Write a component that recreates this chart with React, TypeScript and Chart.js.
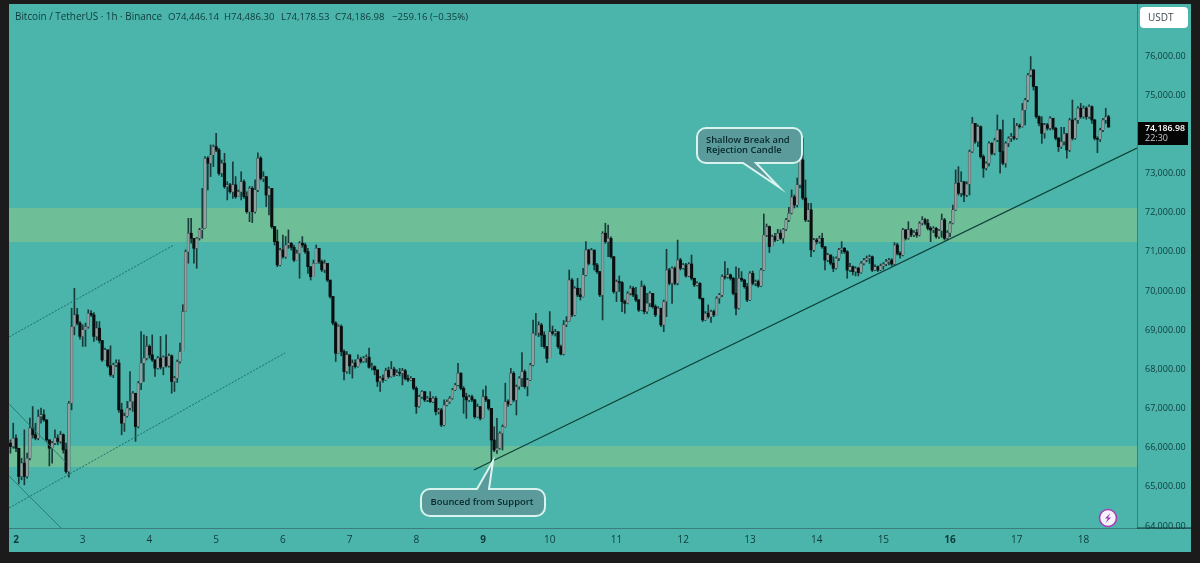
import React, { useEffect, useRef } from "react";
import { Chart, registerables } from "chart.js";

Chart.register(...registerables);

const firstOpen = 66115;

const closes = [
  66030,66240,65985,65265,65605,65265,65730,66500,66330,66245,
  66795,66840,66710,66200,65985,66115,66245,66160,66330,65945,
  65390,67135,69090,69390,69180,68840,69010,69090,69430,69390,
  68840,69050,68735,68240,68500,68090,67860,68115,68160,66965,
  66625,66810,67010,67180,67390,66540,67650,68160,68285,68585,
  68370,68240,68030,68285,68055,68310,68090,68345,67690,67775,
  68200,68455,69475,
  71005,71475,71345,71090,71345,71560,71600,73390,73260,73475,
  73685,73600,73005,73260,72665,72710,72535,72710,72410,72535,
  72790,72410,72025,72620,72025,72580,73390,72875,72920,72450,
  72620,71645,71260,70665,71045,70875,71175,71220,71115,70790,
  70960,71220,71175,71005,70620,70365,70705,71090,70750,70540,
  70705,70280,69860,69180,68410,69095,68455,67945,68370,68090,
  68160,68070,68260,68200,68285,68310,68055,68070,67985,67690,
  67775,67730,67970,67815,68005,67860,67920,
  67900,67965,67770,67730,67770,67515,67050,67300,67430,67220,
  67260,67175,67260,66920,66960,66580,67090,67175,67260,67475,
  67600,67900,67515,67300,67220,67300,67220,66790,67050,66750,
  67300,67220,67005,66195,65940,65985,66365,66535,67175,67115,
  67900,67220,67560,67770,67940,67560,67730,68110,68920,68935,
  69130,68875,68580,68280,68960,68920,68960,68580,68390,69135,
  69220,70280,69390,70070,69900,69855,70410,71045,70705,71045,
  70665,70495,69900,71475,71260,71345,70875,69985,70240,70215,
  69730,69685,69940,70070,69900,69770,69515,70110,69475,69685,
  69940,69600,69390,69560,69135,69730,70535,70195,70580,70195,
  70790,70580,70665,70385,70690,70325,70155,70195,69815,69260,
  69430,69345,69475,69390,69815,69900,70365,70350,70410,70325,
  69940,69560,70325,70280,70110,69770,70450,70195,70240,70130,
  70535,71430,71645,71135,71390,71300,71475,71345,71575,71815,
  71985,72400,72195,72710,73345,72375,
  71815,72070,71047,71303,71260,71345,71130,70790,70920,70710,
  70580,70835,71050,71090,71005,70535,70620,70495,70580,70470,
  70705,70790,70835,70875,70535,70620,70535,70640,70690,70750,
  70790,70690,71175,70960,70920,71560,71345,71560,71430,71490,
  71430,71730,71815,71730,71600,71560,71600,71390,71540,71815,
  71345,71490,71730,72070,72750,72495,72790,72450,72730,73560,
  74280,73815,74195,73430,73135,73260,73770,73515,73855,74110,
  73560,73260,73770,73900,73940,73900,74215,74195,74620,74875,
  75515,75640,75220,74450,74280,74025,74240,74155,74410,74155,
  73900,73685,73815,74010,73600,74365,73900,74365,74665,74450,
  74665,74450,74705,74365,73900,73875,74110,74365,74446.14,74186.98,
];

const highs = [
  66200,66625,66330,65985,65730,66455,65860,66755,67050,66625,
  66965,67010,66965,66710,66200,66160,66455,66330,66415,66355,
  66115,67180,69560,70070,69560,69220,69135,69180,69520,69500,
  69450,69220,69220,68735,68540,68370,68600,68160,68240,68240,
  67135,66880,67180,67945,67435,67220,67690,68965,68880,68840,
  68625,68880,68240,68330,68840,68345,68880,68395,68370,67820,
  68240,68670,69650,
  71050,71855,71855,71345,71370,71600,72620,73430,73430,73730,
  73730,74025,73645,73345,73515,72790,72750,73300,72920,72580,
  73045,72835,72535,72665,72665,72835,73530,73430,73045,72920,
  72665,72620,71645,71560,71090,71430,71390,71560,71235,71175,
  71045,71260,71390,71220,71090,70620,70790,71175,71090,70790,
  70790,70620,70215,69860,69220,69135,69135,68500,68455,68370,
  68240,68240,68370,68310,68330,68370,68540,68160,68090,67985,
  67820,67860,68030,68055,68200,68055,67985,
  68025,68025,68000,67855,67815,67770,67560,67345,67455,67430,
  67305,67430,67305,67305,67005,67005,67220,67220,67305,67515,
  67645,68155,67915,67560,67390,67345,67345,67235,67115,67050,
  67475,67575,67235,67005,66535,66750,66405,66580,67645,67220,
  68025,67940,67600,67815,68425,67985,67770,68155,69260,69430,
  69215,69175,68960,68580,69475,69105,69020,68960,68620,69245,
  69345,70535,70325,70110,70325,70070,70580,71260,71065,71090,
  71045,70705,70495,71515,71730,71685,71385,70875,70280,70385,
  70240,69770,69985,70130,70110,70095,69790,70255,70155,69940,
  69985,69730,69645,69600,69475,69770,71065,70580,70620,70620,
  71300,70835,70705,70705,70725,70920,70325,70240,70215,69815,
  69475,69645,69515,69515,69855,69940,70410,70750,70580,70435,
  70350,70620,70580,70495,70300,70195,70495,70510,70280,70280,
  70580,71965,71710,71660,71430,71475,71575,71560,71600,71855,
  72135,72580,72450,72885,73600,73905,
  72835,72240,72240,71345,71345,71405,71475,71130,70960,70920,
  70875,70875,71090,71260,71115,71030,70705,70640,70620,70605,
  70750,70835,70895,70920,70895,70665,70640,70690,70725,70810,
  70835,70825,71235,71220,71005,71600,71575,71770,71600,71540,
  71575,71770,71900,71855,71830,71645,71645,71625,71575,71965,
  71855,71540,71770,72195,73090,73175,73045,72790,72790,73600,
  74435,74240,74240,74215,73475,73300,73815,73790,73900,74495,
  74130,74365,73815,73940,74025,74410,74280,74265,74790,74920,
  75560,75985,75660,75220,74470,74450,74280,74280,74450,74410,
  74180,73925,74180,74180,74025,74410,74875,74410,74705,74790,
  74725,74705,74750,74725,74385,73940,74155,74410,74665,74486.30,
];

const lows = [
  65860,65985,65900,65075,65180,65050,65220,65690,66245,66200,
  66200,66625,66670,66160,65535,65605,66075,66075,66115,65860,
  65350,65245,66965,68880,69135,68770,68585,68585,69050,69350,
  68710,68750,68670,68200,68240,68055,67820,67790,68070,66900,
  66330,66415,66780,66965,66925,66160,66500,67480,67690,68240,
  68285,68200,67820,68005,68005,67860,68055,68055,67390,67435,
  67665,68160,69090,
  69475,70710,71220,70710,70580,71300,71345,71600,72580,72920,
  73175,73560,72960,72920,72620,72325,72495,72365,72365,72410,
  72325,72365,71985,71770,71745,71985,72535,72835,72790,72155,
  71940,71600,71175,70620,70640,70835,70835,71090,71045,70750,
  70790,70325,71115,70960,70450,70280,70410,70705,70705,70495,
  70470,70240,69815,69135,68200,68410,68345,67730,67900,67885,
  67775,68030,68055,68160,68175,68175,68030,67985,67860,67560,
  67435,67665,67715,67775,67800,67820,67835,
  67830,67600,67730,67685,67710,67475,66875,67030,67260,67175,
  67175,67150,67150,66835,66860,66535,66555,67065,67135,67235,
  67455,67575,67475,66875,66750,67175,67175,66750,66775,66705,
  66750,67175,66960,65645,65900,65855,65960,65940,66520,67050,
  67090,67175,66835,67490,67560,67515,67320,67710,68085,68875,
  68835,68580,68535,68170,68305,68875,68850,68535,68365,68365,
  69090,69220,69345,69365,69855,69770,69840,70385,70665,70750,
  70535,70450,69855,69260,71215,70875,70835,69940,69730,69985,
  69475,69430,69670,69900,69855,69730,69475,69500,69415,69430,
  69600,69560,69345,69415,69090,68960,69345,70155,69685,70155,
  70155,70535,70555,70350,70365,70280,70110,70130,69790,69220,
  69245,69305,69200,69345,69390,69685,69855,70300,70325,70280,
  69900,69390,69535,70240,70070,69730,69755,70155,70130,70095,
  70110,70520,71390,70980,71200,71260,71285,71305,71220,71540,
  71770,71965,72120,72145,72630,72330,
  71770,71770,70875,71005,71200,71220,71090,70535,70750,70665,
  70495,70555,70775,70960,70960,70325,70495,70410,70385,70385,
  70450,70665,70750,70705,70495,70520,70495,70520,70555,70640,
  70665,70640,70665,70920,70835,70895,71300,71320,71390,71390,
  71370,71405,71685,71685,71560,71260,71490,71345,71345,71370,
  71300,71300,71390,71710,72050,72450,72410,72280,72410,72450,
  73530,73770,73685,73390,72900,73090,73190,73475,73475,73815,
  73005,73220,73160,73685,73815,73855,73870,74155,74180,74240,
  74835,75470,75130,74410,74215,73770,73900,74110,74110,74110,
  73855,73560,73640,73730,73390,73560,73855,73870,74280,74410,
  74410,74385,74410,74280,73855,73530,73815,74070,74280,74178.53,
];

const firstHour = -2;
const dayLabels = ["2","3","4","5","6","7","8","9","10","11","12","13","14","15","16","17","18"];
const boldDays = ["2", "9", "16"];
const priceTicks = [64000,65000,66000,67000,68000,69000,70000,71000,72000,73000,74000,75000,76000];
const hiddenPriceTick = 74000;

const resistanceBand = [71250, 72120];
const supportBand = [65507, 66040];

const mainTrend = [{ x: 164.7, y: 65430 }, { x: 403.2, y: 73650 }];
const channelUpper = [{ x: -2.5, y: 68826 }, { x: 56.8, y: 71175 }];
const channelLower = [{ x: -2.5, y: 64460 }, { x: 96.8, y: 68420 }];
const diagonalA = [{ x: -2.5, y: 67116 }, { x: 17.8, y: 65635 }];
const diagonalB = [{ x: -2.5, y: 65277 }, { x: 16.2, y: 63950 }];

const headerText = "Bitcoin / TetherUS · 1h · Binance";
const headerOpen = "O74,446.14";
const headerHigh = "H74,486.30";
const headerLow = "L74,178.53";
const headerClose = "C74,186.98";
const headerChange = "−259.16 (−0.35%)";
const lastPriceText = "74,186.98";
const countdownText = "22:30";
const currencyText = "USDT";
const supportNote = "Bounced from Support";
const breakNote = ["Shallow Break and", "Rejection Candle"];

const BG = "#4bb5ab";
const BAND = "#6ebf98";
const FRAME = "#1b1b1b";
const INK = "#0e3a3c";
const AXIS = "#3c7d7c";
const FONT = "'Open Sans', sans-serif";

function roundPath(ctx: CanvasRenderingContext2D, x: number, y: number, w: number, h: number, r: number) {
  ctx.beginPath();
  ctx.roundRect(x, y, w, h, r);
}

function callout(
  ctx: CanvasRenderingContext2D,
  box: [number, number, number, number],
  pointer: [number, number, number, number, number, number],
  up: boolean
) {
  const [x, y, w, h] = box;
  const [ax, ay, bx, by, tx, ty] = pointer;
  const r = 9;
  ctx.beginPath();
  ctx.moveTo(x + r, y);
  if (up) {
    ctx.lineTo(ax, ay);
    ctx.lineTo(tx, ty);
    ctx.lineTo(bx, by);
  }
  ctx.lineTo(x + w - r, y);
  ctx.arcTo(x + w, y, x + w, y + r, r);
  ctx.lineTo(x + w, y + h - r);
  ctx.arcTo(x + w, y + h, x + w - r, y + h, r);
  if (!up) {
    ctx.lineTo(bx, by);
    ctx.lineTo(tx, ty);
    ctx.lineTo(ax, ay);
  }
  ctx.lineTo(x + r, y + h);
  ctx.arcTo(x, y + h, x, y + h - r, r);
  ctx.lineTo(x, y + r);
  ctx.arcTo(x, y, x + r, y, r);
  ctx.closePath();
  ctx.fillStyle = "#5b9b9c";
  ctx.fill();
  ctx.lineWidth = 2;
  ctx.strokeStyle = "#d9f3ef";
  ctx.stroke();
}

const decorPlugin = {
  id: "decor",
  beforeDraw(chart: any) {
    const ctx = chart.ctx;
    ctx.save();
    ctx.fillStyle = FRAME;
    ctx.fillRect(0, 0, chart.width, chart.height);
    ctx.fillStyle = BG;
    ctx.fillRect(9, 4, 1182, 548);
    ctx.restore();
  },
  beforeDatasetsDraw(chart: any) {
    const { ctx, chartArea, scales } = chart;
    ctx.save();
    ctx.fillStyle = BAND;
    for (const [lo, hi] of [resistanceBand, supportBand]) {
      const top = scales.y.getPixelForValue(hi);
      const bottom = scales.y.getPixelForValue(lo);
      ctx.fillRect(chartArea.left, top, chartArea.right - chartArea.left, bottom - top);
    }
    ctx.restore();
  },
  afterDraw(chart: any) {
    const ctx: CanvasRenderingContext2D = chart.ctx;
    ctx.save();
    // scale corner below the axis
    ctx.fillStyle = BG;
    ctx.fillRect(1138, 529, 53, 23);
    ctx.fillStyle = "#14383a";
    ctx.fillRect(1137, 527.5, 54, 1.2);

    // header
    ctx.textBaseline = "middle";
    ctx.textAlign = "left";
    ctx.fillStyle = INK;
    ctx.font = `9.9px ${FONT}`;
    ctx.fillText(headerText, 15, 17);
    ctx.font = `9.6px ${FONT}`;
    ctx.fillText(headerOpen, 168, 17);
    ctx.fillText(headerHigh, 224, 17);
    ctx.fillText(headerLow, 281, 17);
    ctx.fillText(headerClose, 335, 17);
    ctx.fillText(headerChange, 392, 17);

    // currency button
    ctx.fillStyle = "#ffffff";
    roundPath(ctx, 1140, 7, 48, 21, 4);
    ctx.fill();
    ctx.fillStyle = "#3f4a50";
    ctx.font = `10px ${FONT}`;
    ctx.fillText(currencyText, 1148, 18);

    // last price tag
    ctx.fillStyle = "#050505";
    ctx.fillRect(1138, 122, 50, 23);
    ctx.fillStyle = "#ffffff";
    ctx.font = `600 8.8px ${FONT}`;
    ctx.fillText(lastPriceText, 1145, 128);
    ctx.fillStyle = "#c9c9c9";
    ctx.font = `9px ${FONT}`;
    ctx.fillText(countdownText, 1145, 138.5);

    // callouts
    callout(ctx, [421, 489, 124, 27], [477, 489, 489, 489, 493, 461], true);
    ctx.fillStyle = "#08282b";
    ctx.font = `600 9.4px ${FONT}`;
    ctx.textAlign = "center";
    ctx.fillText(supportNote, 482, 502.5);

    callout(ctx, [697, 128, 105, 35], [743, 163, 756, 163, 779, 187], false);
    ctx.fillStyle = "#08282b";
    ctx.textAlign = "left";
    ctx.fillText(breakNote[0], 706, 140.5);
    ctx.fillText(breakNote[1], 706, 150.5);

    // bolt badge
    ctx.beginPath();
    ctx.arc(1108, 518, 8.5, 0, Math.PI * 2);
    ctx.fillStyle = "#f4f4f8";
    ctx.fill();
    ctx.lineWidth = 1.6;
    ctx.strokeStyle = "#a83cb4";
    ctx.stroke();
    ctx.beginPath();
    ctx.moveTo(1110.5, 513);
    ctx.lineTo(1105, 518.6);
    ctx.lineTo(1108, 518.6);
    ctx.lineTo(1105.5, 523);
    ctx.lineTo(1111, 517.4);
    ctx.lineTo(1108, 517.4);
    ctx.closePath();
    ctx.fillStyle = "#9a2cc0";
    ctx.fill();
    ctx.restore();
  },
};

export default function App() {
  const ref = useRef<HTMLCanvasElement | null>(null);

  useEffect(() => {
    if (!ref.current) return;
    const hours = closes.map((_, i) => firstHour + i);
    const opens = closes.map((_, i) => (i === 0 ? firstOpen : closes[i - 1]));
    const wicks = closes.map((_, i) => ({ x: hours[i], y: [lows[i], highs[i]] }));
    const ups = closes.flatMap((c, i) => (c >= opens[i] ? [{ x: hours[i], y: [opens[i], c] }] : []));
    const downs = closes.flatMap((c, i) => (c < opens[i] ? [{ x: hours[i], y: [c, opens[i]] }] : []));

    const lineSet = (data: any, color: string, width: number, dash: number[]) => ({
      type: "line",
      data,
      borderColor: color,
      borderWidth: width,
      borderDash: dash,
      pointRadius: 0,
      fill: false,
      tension: 0,
      order: 0,
    });

    const chart = new Chart(ref.current, {
      type: "bar",
      data: {
        datasets: [
          { data: wicks, backgroundColor: "#1a3a3a", barThickness: 1, grouped: false, order: 3 },
          { data: ups, backgroundColor: "#939f9f", borderColor: "#2c4444", borderWidth: 0.5, barThickness: 2.7, grouped: false, order: 2 },
          { data: downs, backgroundColor: "#0a0e0e", barThickness: 2.5, grouped: false, order: 2 },
          lineSet(mainTrend, "#0c4238", 1.2, []),
          lineSet(channelUpper, "#1c6f6a", 1, [2, 1.5]),
          lineSet(channelLower, "#1c6f6a", 1, [2, 1.5]),
          lineSet(diagonalA, "#2a7d78", 1, []),
          lineSet(diagonalB, "#2a7d78", 1, []),
        ] as any,
      },
      plugins: [decorPlugin],
      options: {
        animation: false,
        responsive: false,
        devicePixelRatio: 1,
        layout: { padding: { left: 9, right: 9, top: 4, bottom: 11 } },
        plugins: { legend: { display: false }, tooltip: { enabled: false } },
        scales: {
          x: {
            type: "linear",
            offset: false,
            min: -2.52,
            max: 403.24,
            afterBuildTicks: (scale: any) => {
              scale.ticks = dayLabels.map((_, i) => ({ value: i * 24 }));
            },
            afterFit: (scale: any) => {
              scale.height = 24;
              scale.paddingLeft = 0;
              scale.paddingRight = 0;
            },
            grid: { display: false, drawTicks: false, offset: false },
            border: { display: true, color: AXIS, width: 1 },
            ticks: {
              autoSkip: false,
              maxRotation: 0,
              padding: 6,
              color: INK,
              font: (c: any) => ({
                family: FONT,
                size: 10,
                weight: c.tick && boldDays.includes(dayLabels[c.tick.value / 24]) ? "700" : "400",
              }),
              callback: (v: any) => dayLabels[Number(v) / 24] ?? "",
            },
          },
          y: {
            position: "right",
            min: 63949,
            max: 77327,
            afterBuildTicks: (scale: any) => {
              scale.ticks = priceTicks.filter((p) => p !== hiddenPriceTick).map((value) => ({ value }));
            },
            afterFit: (scale: any) => {
              scale.width = 54;
              scale.paddingTop = 0;
              scale.paddingBottom = 0;
            },
            grid: { display: false, drawTicks: false },
            border: { display: true, color: AXIS, width: 1 },
            ticks: {
              padding: 8,
              color: INK,
              font: { family: FONT, size: 9, weight: "500" },
              callback: (v: any) =>
                Number(v).toLocaleString("en-US", { minimumFractionDigits: 2, maximumFractionDigits: 2 }),
            },
          },
        },
      } as any,
    });
    return () => chart.destroy();
  }, []);

  return (
    <div style={{ position: "fixed", left: 0, top: 0, width: 1200, height: 563, background: FRAME, overflow: "hidden" }}>
      <canvas ref={ref} width={1200} height={563} style={{ display: "block", width: 1200, height: 563, filter: "blur(0.4px)" }} />
    </div>
  );
}
